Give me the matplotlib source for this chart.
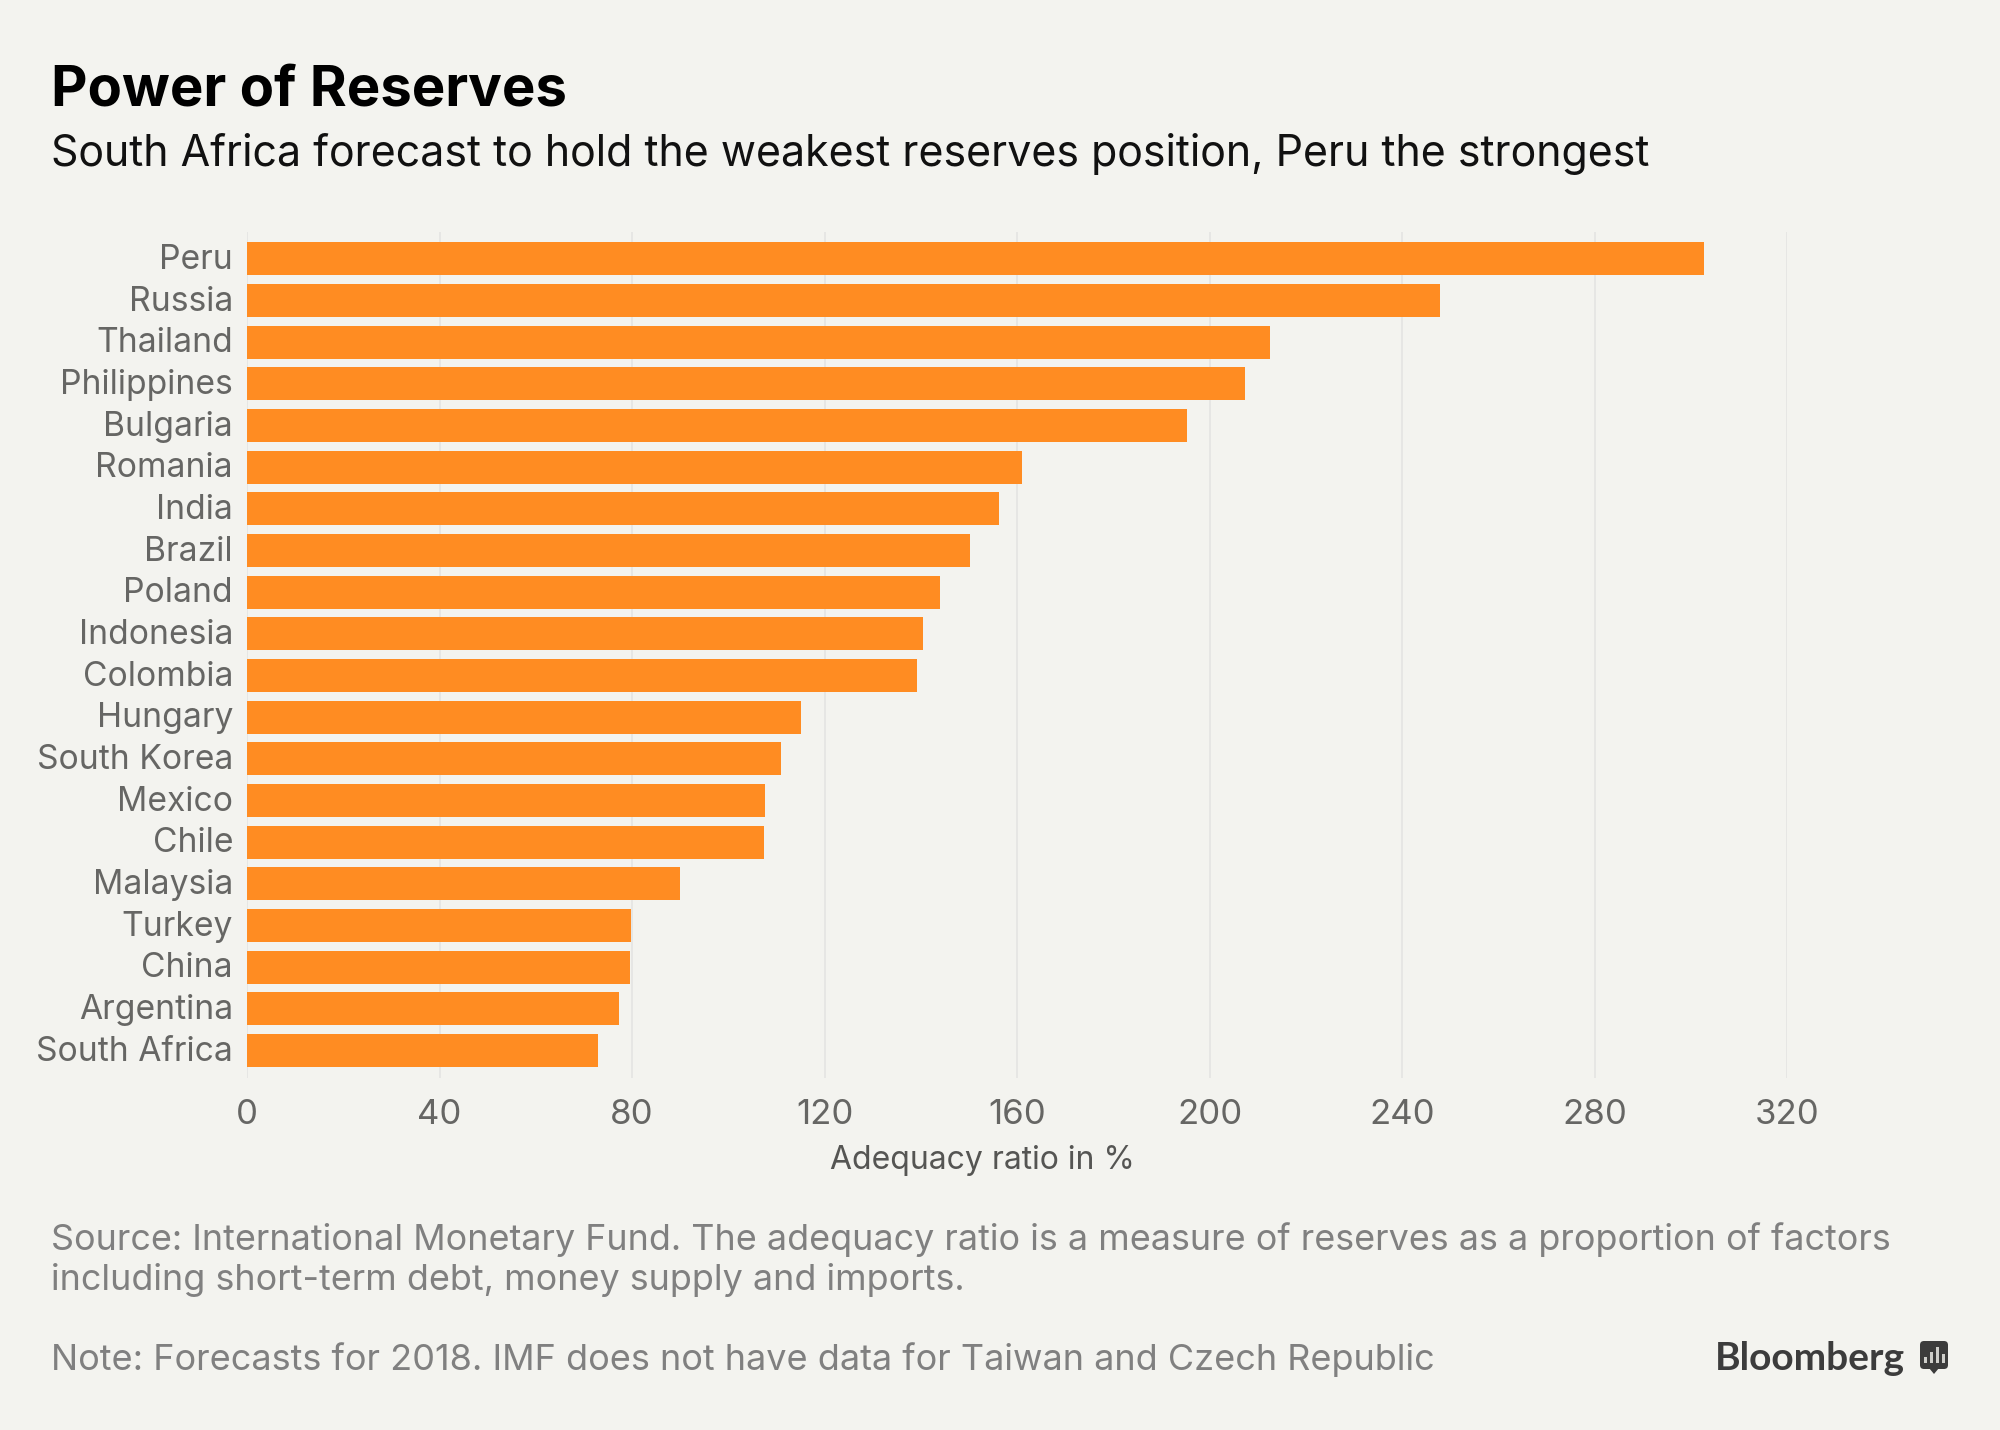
import matplotlib
matplotlib.use("Agg")
import matplotlib.pyplot as plt
from matplotlib.patches import FancyBboxPatch, Polygon, Rectangle
from matplotlib.transforms import ScaledTranslation

countries = ["Peru","Russia","Thailand","Philippines","Bulgaria","Romania","India","Brazil","Poland",
             "Indonesia","Colombia","Hungary","South Korea","Mexico","Chile","Malaysia","Turkey","China",
             "Argentina","South Africa"]
ratios = [302.7,247.8,212.5,207.3,195.3,161,156.3,150.2,144,140.4,139.3,115.2,111,107.6,107.5,90,79.8,79.6,77.3,73]
xticks = [0,40,80,120,160,200,240,280,320]

W, H = 2000, 1430
BG = "#f3f3ef"
plt.rcParams['font.family'] = ['Inter', 'Liberation Sans', 'DejaVu Sans']
fig = plt.figure(figsize=(W/100, H/100), dpi=100, facecolor=BG)

def px(x, y):
    return x / W, 1 - y / H

L, R, T, B = 247, 1787, 232, 1078
ax = fig.add_axes([L/W, 1-B/H, (R-L)/W, (B-T)/H], facecolor=BG)
ys = list(range(len(countries)))
ax.set_xlim(0, 320)
ax.set_ylim(19.66, -0.648)
ax.xaxis.grid(True, color="#e4e4e2", lw=1.2)
ax.set_axisbelow(True)
ax.barh(ys, ratios, height=33/41.66, color="#ff8c22", clip_on=False, zorder=3)
for s in ax.spines.values():
    s.set_visible(False)
ax.set_xticks(xticks)
ax.set_yticks(ys, countries)
ax.tick_params(axis='y', length=0, labelcolor="#666664", labelsize=24.2, pad=10)
ax.tick_params(axis='x', length=0, labelcolor="#666664", labelsize=25, pad=15)
shift = ScaledTranslation(0, 2.5/100, fig.dpi_scale_trans)
for lab in ax.get_yticklabels():
    lab.set_transform(lab.get_transform() + shift)

fig.text(*px(982, 1160), "Adequacy ratio in %", fontsize=23, color="#555553", va='center', ha='center')
fig.text(*px(51, 90), "Power of Reserves", fontsize=40.5, fontweight='bold', color="#000000", va='center')
fig.text(*px(51, 154), "South Africa forecast to hold the weakest reserves position, Peru the strongest",
         fontsize=30.9, color="#111111", va='center')
fig.text(*px(51, 1240), "Source: International Monetary Fund. The adequacy ratio is a measure of reserves as a proportion of factors",
         fontsize=25.85, color="#808080", va='center')
fig.text(*px(51, 1280), "including short-term debt, money supply and imports.", fontsize=25.85, color="#808080", va='center')
fig.text(*px(51, 1360), "Note: Forecasts for 2018. IMF does not have data for Taiwan and Czech Republic",
         fontsize=25.95, color="#808080", va='center')
fig.text(*px(1715, 1358), "Bloomberg", fontsize=28, fontweight='bold', family=['Lato', 'DejaVu Sans'], color="#3c3c3c", va='center')

# Logo mark
logo = "#3c3c3c"
def ptch(p):
    fig.add_artist(p)
icon = FancyBboxPatch((1920/W, 1-1369/H), 28/W, 28/H, boxstyle="round,pad=0,rounding_size=0.002",
                      transform=fig.transFigure, fc=logo, ec='none', mutation_aspect=W/H)
ptch(icon)
ptch(Polygon([px(1929, 1368), px(1939, 1368), px(1934, 1374)], transform=fig.transFigure, fc=logo, ec='none'))
for x0, top in [(1924, 1357), (1930, 1352), (1936, 1347), (1942, 1354)]:
    ptch(Rectangle(px(x0, 1363), 2.5/W, (1363-top)/H, transform=fig.transFigure, fc="#cfcfcb", ec='none'))

fig.savefig("out.png", dpi=100, facecolor=BG)
